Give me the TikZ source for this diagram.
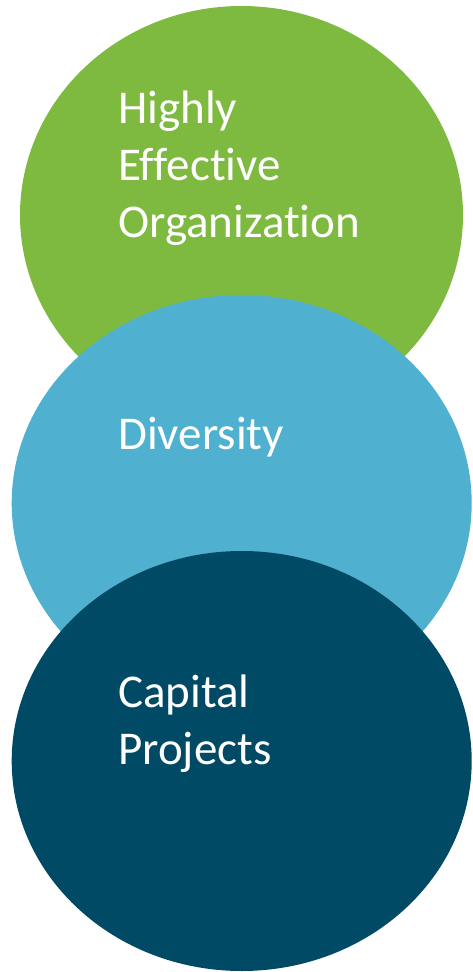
\documentclass[tikz,border=0pt]{standalone}
\usepackage{fontspec}
\setmainfont{Carlito}[Ligatures={NoCommon}]
\usetikzlibrary{shapes.geometric}
\definecolor{cgreen}{RGB}{127,186,64}
\definecolor{cblue}{RGB}{80,176,207}
\definecolor{cdark}{RGB}{0,74,101}
\tikzset{
  blob/.style={ellipse, inner sep=0pt, draw=none},
  label/.style={text=white, inner sep=0pt, align=left, anchor=base west,
    font=\fontsize{47}{57}\selectfont}
}
\begin{document}
\begin{tikzpicture}[x=1pt,y=-1pt]
\useasboundingbox (0,0) rectangle (472,972);
\node[blob, fill=cgreen, minimum width=443pt, minimum height=418pt] (green) at (241.5,215) {};
\node[blob, fill=cblue, minimum width=460pt, minimum height=416pt] (blue) at (241.7,503) {};
\node[blob, fill=cdark, minimum width=460pt, minimum height=420pt] (dark) at (241.7,761) {};
\node[label] (t1) at (118,237) {Highly\\Effective\\Organization};
\node[label] (t2) at (118,449) {Diversity};
\node[label] (t3) at (118,764) {Capital\\Projects};
\end{tikzpicture}
\end{document}
